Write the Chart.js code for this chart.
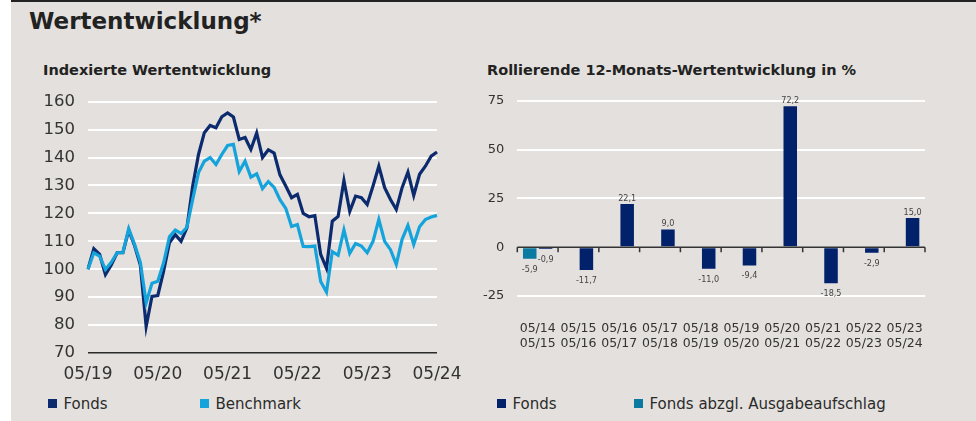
<!DOCTYPE html>
<html lang="de">
<head>
<meta charset="utf-8">
<title>Wertentwicklung</title>
<script src="https://cdn.jsdelivr.net/npm/chart.js@4.4.1/dist/chart.umd.min.js"></script>
<style>
  html, body { margin: 0; padding: 0; background: #fff; }
  body { width: 976px; height: 421px; position: relative; overflow: hidden;
         font-family: "DejaVu Sans", sans-serif; color: #2b2b2b; }
  #panel { position: absolute; left: 11px; top: 0; width: 965px; height: 421px;
           background: #e3e0dd; border-top: 2px solid #222; box-sizing: border-box; }
  .txt { position: absolute; white-space: nowrap; line-height: 1; }
  #titel { left: 29px; top: 10px; font-size: 23px; font-weight: bold; color: #222; }
  .untertitel { top: 63px; font-size: 14.5px; font-weight: bold; color: #222; }
  #utLinks { left: 43px; }
  #utRechts { left: 487px; }
  canvas { position: absolute; }
  #chartLinks { left: 30px; top: 88px; }
  #chartRechts { left: 475px; top: 85px; }
  .legende { position: absolute; top: 397px; display: flex; font-size: 15px; line-height: 1; color: #2b2b2b; }
  #legLinks { left: 48px; }
  #legRechts { left: 497px; }
  .leg-item { display: flex; align-items: center; }
  #legLinks .leg-item:first-child { width: 152px; }
  #legRechts .leg-item:first-child { width: 137px; }
  .leg-box { width: 8.5px; height: 9px; margin-right: 7px; margin-top: -2px; }
</style>
</head>
<body>
<div id="panel"></div>
<div id="titel" class="txt">Wertentwicklung*</div>
<div id="utLinks" class="txt untertitel">Indexierte Wertentwicklung</div>
<div id="utRechts" class="txt untertitel">Rollierende 12-Monats-Wertentwicklung in %</div>
<canvas id="chartLinks" width="445" height="302"></canvas>
<canvas id="chartRechts" width="470" height="275"></canvas>
<div id="legLinks" class="legende"></div>
<div id="legRechts" class="legende"></div>

<script>
// Daten: indexierte Wertentwicklung (monatlich, 05/19 = 100)
const monate = [
  '05/19','06/19','07/19','08/19','09/19','10/19','11/19','12/19',
  '01/20','02/20','03/20','04/20','05/20','06/20','07/20','08/20','09/20','10/20','11/20','12/20',
  '01/21','02/21','03/21','04/21','05/21','06/21','07/21','08/21','09/21','10/21','11/21','12/21',
  '01/22','02/22','03/22','04/22','05/22','06/22','07/22','08/22','09/22','10/22','11/22','12/22',
  '01/23','02/23','03/23','04/23','05/23','06/23','07/23','08/23','09/23','10/23','11/23','12/23',
  '01/24','02/24','03/24','04/24','05/24'
];
const fondsIndex = [
  100, 107.3, 105.3, 98.1, 101.5, 105.9, 105.9, 114, 108.5, 101.5,
  79.5, 90.3, 90.6, 99.3, 109.5, 112.4, 110, 114.8, 129.8, 141.1,
  148.9, 151.5, 150.7, 154.6, 156, 154.5, 146.5, 147.2, 142.9, 148.8,
  140, 142.8, 141.6, 133.8, 129.8, 125.6, 126.8, 120, 118.8, 119.2,
  105.3, 100.3, 117.2, 118.9, 131.8, 120.7, 126.2, 125.6, 123.2, 129.8,
  136.9, 129.2, 125, 121.4, 129.2, 134.8, 126.4, 134, 136.9, 140.5,
  142
];
const benchmarkIndex = [
  100, 105.9, 104.7, 99.9, 102.5, 105.9, 106, 114.5, 108.9, 102.5,
  88, 95, 95.7, 102.3, 111.6, 114, 112.8, 115, 125, 134.6,
  138.7, 140, 137.5, 141.1, 144.3, 144.7, 135, 138.7, 133, 134.2,
  128.9, 131.4, 129.3, 124.9, 121.8, 115.3, 116, 108.2, 108.1, 108.3,
  95.6, 91.8, 106.3, 105, 114.1, 105.7, 109.2, 108.3, 105.9, 110,
  117.8, 110, 107, 101.7, 110.7, 115.7, 108.9, 115.2, 117.8, 118.7,
  119.3
];
const indexTicks = [70, 80, 90, 100, 110, 120, 130, 140, 150, 160];

// Daten: rollierende 12-Monats-Wertentwicklung in %
const zeitraeume = [
  ['05/14','05/15'], ['05/15','05/16'], ['05/16','05/17'], ['05/17','05/18'], ['05/18','05/19'],
  ['05/19','05/20'], ['05/20','05/21'], ['05/21','05/22'], ['05/22','05/23'], ['05/23','05/24']
];
const rollFonds = [-0.9, -11.7, 22.1, 9.0, -11.0, -9.4, 72.2, -18.5, -2.9, 15.0];
const rollFondsAbzgl = [-5.9, null, null, null, null, null, null, null, null, null];
const rollTicks = [-25, 0, 25, 50, 75];

const farbeFonds = '#0c2a6e';
const farbeBenchmark = '#15a3dc';
const farbeBalken = '#02216b';
const farbeAbzgl = '#0b7aa0';

Chart.defaults.font.family = '"DejaVu Sans", sans-serif';
Chart.defaults.color = '#333';

// Legenden als HTML aufbauen
function baueLegende(id, eintraege) {
  const box = document.getElementById(id);
  eintraege.forEach(e => {
    const item = document.createElement('div');
    item.className = 'leg-item';
    const q = document.createElement('span');
    q.className = 'leg-box';
    q.style.background = e.farbe;
    const t = document.createElement('span');
    t.textContent = e.text;
    item.appendChild(q);
    item.appendChild(t);
    box.appendChild(item);
  });
}

// --- Linkes Diagramm ---
new Chart(document.getElementById('chartLinks'), {
  type: 'line',
  data: {
    labels: monate,
    datasets: [
      { label: 'Fonds', data: fondsIndex, borderColor: farbeFonds, borderWidth: 3.2,
        pointRadius: 0, tension: 0, order: 1 },
      { label: 'Benchmark', data: benchmarkIndex, borderColor: farbeBenchmark, borderWidth: 3.2,
        pointRadius: 0, tension: 0, order: 0 }
    ]
  },
  options: {
    responsive: false,
    animation: false,
    devicePixelRatio: 1,
    layout: { padding: { top: 13.7, right: 38, left: 0, bottom: 0 } },
    plugins: { legend: { display: false }, tooltip: { enabled: false } },
    scales: {
      x: {
        grid: { display: false },
        border: { display: false },
        ticks: {
          autoSkip: false, maxRotation: 0, padding: 3,
          font: { size: 17 }, color: '#333',
          callback: function(val, idx) { return idx % 12 === 0 ? this.getLabelForValue(val) : null; }
        },
        afterFit: s => { s.height = 37; s.paddingLeft = 0; s.paddingRight = 0; }
      },
      y: {
        min: 70, max: 160,
        afterBuildTicks: s => { s.ticks = indexTicks.map(v => ({ value: v })); },
        grid: {
          drawTicks: false,
          color: c => c.tick && c.tick.value === 70 ? '#2a2a2a' : '#ffffff',
          lineWidth: c => c.tick && c.tick.value === 70 ? 1.5 : 2
        },
        border: { display: false },
        ticks: { padding: 13, font: { size: 16.5 }, color: '#333' },
        afterFit: s => { s.width = 58; s.paddingTop = 0; s.paddingBottom = 0; }
      }
    }
  }
});
baueLegende('legLinks', [
  { text: 'Fonds', farbe: farbeFonds },
  { text: 'Benchmark', farbe: farbeBenchmark }
]);

// --- Rechtes Diagramm ---
const nullLinie = {
  id: 'nullLinie',
  afterDatasetsDraw(chart) {
    const ctx = chart.ctx, xs = chart.scales.x, ys = chart.scales.y;
    const y0 = ys.getPixelForValue(0);
    const schritt = xs.getPixelForValue(1) - xs.getPixelForValue(0);
    ctx.save();
    ctx.strokeStyle = '#333';
    ctx.lineWidth = 1.5;
    ctx.beginPath();
    ctx.moveTo(chart.chartArea.left, y0);
    ctx.lineTo(chart.chartArea.right, y0);
    for (let i = 0; i <= chart.data.labels.length; i++) {
      const bx = xs.getPixelForValue(0) + (i - 0.5) * schritt;
      ctx.moveTo(bx, y0);
      ctx.lineTo(bx, y0 + 5);
    }
    ctx.stroke();
    ctx.restore();
  }
};
const wertLabels = {
  id: 'wertLabels',
  afterDatasetsDraw(chart) {
    const ctx = chart.ctx;
    ctx.save();
    ctx.font = '9px "DejaVu Sans Condensed", "DejaVu Sans", sans-serif';
    ctx.fillStyle = '#444';
    ctx.textAlign = 'center';
    chart.data.datasets.forEach((ds, di) => {
      chart.getDatasetMeta(di).data.forEach((bar, i) => {
        const v = ds.data[i];
        if (v === null || v === undefined) return;
        const txt = v.toFixed(1).replace('.', ',');
        if (v >= 0) {
          ctx.textBaseline = 'bottom';
          ctx.fillText(txt, bar.x, bar.y - 1);
        } else {
          ctx.textBaseline = 'top';
          ctx.fillText(txt, bar.x, bar.y + 6);
        }
      });
    });
    ctx.restore();
  }
};

new Chart(document.getElementById('chartRechts'), {
  type: 'bar',
  data: {
    labels: zeitraeume,
    datasets: [
      { label: 'Fonds abzgl. Ausgabeaufschlag', data: rollFondsAbzgl, backgroundColor: farbeAbzgl },
      { label: 'Fonds', data: rollFonds, backgroundColor: farbeBalken }
    ]
  },
  options: {
    responsive: false,
    animation: false,
    devicePixelRatio: 1,
    categoryPercentage: 0.78,
    barPercentage: 0.85,
    layout: { padding: { top: 15.7, right: 20, left: 0, bottom: 0 } },
    plugins: { legend: { display: false }, tooltip: { enabled: false } },
    scales: {
      x: {
        grid: { display: false },
        border: { display: false },
        ticks: { autoSkip: false, maxRotation: 0, padding: 17, font: { size: 12.5 }, color: '#333' },
        afterFit: s => { s.height = 64; s.paddingLeft = 0; s.paddingRight = 0; }
      },
      y: {
        min: -25, max: 75,
        afterBuildTicks: s => { s.ticks = rollTicks.map(v => ({ value: v })); },
        grid: {
          drawTicks: false,
          color: c => c.tick && c.tick.value === 0 ? 'rgba(0,0,0,0)' : '#ffffff',
          lineWidth: 2
        },
        border: { display: false },
        ticks: { padding: 13, font: { size: 13 }, color: '#333' },
        afterFit: s => { s.width = 42.3; s.paddingTop = 0; s.paddingBottom = 0; }
      }
    }
  },
  plugins: [nullLinie, wertLabels]
});
baueLegende('legRechts', [
  { text: 'Fonds', farbe: farbeBalken },
  { text: 'Fonds abzgl. Ausgabeaufschlag', farbe: farbeAbzgl }
]);
</script>
</body>
</html>
